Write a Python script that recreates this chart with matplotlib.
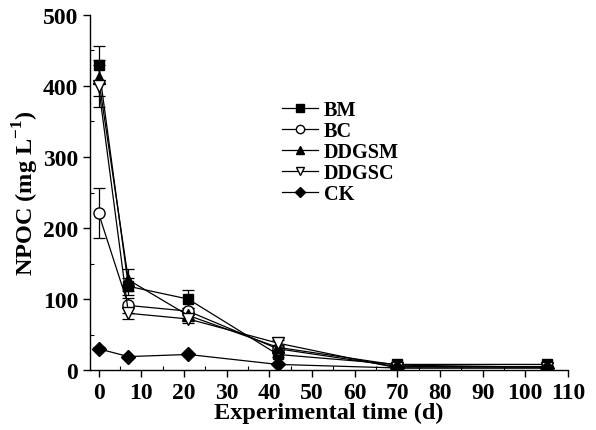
import numpy as np
import matplotlib
matplotlib.use('Agg')
import matplotlib.pyplot as plt

plt.rcParams['font.family'] = 'Liberation Serif'
plt.rcParams['font.weight'] = 'bold'
plt.rcParams['mathtext.fontset'] = 'custom'
plt.rcParams['mathtext.rm'] = 'Liberation Serif:bold'
plt.rcParams['mathtext.bf'] = 'Liberation Serif:bold'

days = [0, 7, 21, 42, 70, 105]
names = ['BM', 'BC', 'DDGSM', 'DDGSC', 'CK']
bm = [430, 118, 100, 22, 8, 8]
bm_err = [26, 12, 13, 4, 2, 2]
bc = [221, 91, 83, 30, 5, 5]
bc_err = [35, 10, 5, 4, 1, 1]
ddgsm = [411, 127, 77, 32, 7, 4]
ddgsm_err = [25, 16, 5, 4, 1, 1]
ddgsc = [400, 80, 72, 38, 3, 3]
ddgsc_err = [30, 8, 5, 5, 1, 1]
ck = [30, 19, 22, 8, 3, 3]
ck_err = [2, 1, 1, 1, 0.5, 0.5]

series = [bm, bc, ddgsm, ddgsc, ck]
errors = [bm_err, bc_err, ddgsm_err, ddgsc_err, ck_err]
markers = ['s', 'o', '^', 'v', 'D']
faces = ['black', 'white', 'black', 'white', 'black']
msizes = [7, 8, 8, 8, 7]

fig = plt.figure(figsize=(5.96, 4.31), dpi=100)
ax = fig.add_axes([0.151, 0.139, 0.802, 0.824])

for y, e, m, fc, ms, n in zip(series, errors, markers, faces, msizes, names):
    ax.errorbar(days, y, yerr=e, color='black', marker=m, markerfacecolor=fc,
                markeredgecolor='black', markersize=ms, linewidth=0.9,
                elinewidth=0.9, capsize=4, capthick=0.9, label=n)

ax.set_xlim(-2, 110)
ax.set_ylim(0, 500)
ax.set_xticks(np.arange(0, 111, 10))
ax.set_yticks(np.arange(0, 501, 100))
ax.set_xticks(np.arange(5, 110, 10), minor=True)
ax.set_yticks(np.arange(50, 500, 100), minor=True)
ax.tick_params(which='major', direction='out', length=5, width=1, labelsize=17)
ax.tick_params(which='minor', direction='in', length=3, width=0.8)
for lab in ax.get_xticklabels() + ax.get_yticklabels():
    lab.set_fontweight('bold')
ax.spines['top'].set_visible(False)
ax.spines['right'].set_visible(False)
ax.spines['left'].set_linewidth(1)
ax.spines['bottom'].set_linewidth(1)

ax.set_xlabel('Experimental time (d)', fontsize=17.5, fontweight='bold', labelpad=-1)
ax.set_ylabel(r'NPOC (mg L$^{-1}$)', fontsize=17.5, fontweight='bold', labelpad=1)

handles, labels = ax.get_legend_handles_labels()
handles = [h[0] for h in handles]
ax.legend(handles, labels, loc='upper left', bbox_to_anchor=(0.402, 0.76),
          borderaxespad=0, borderpad=0, frameon=False,
          prop={'weight': 'bold', 'size': 14.6},
          handlelength=1.75, handletextpad=0.3, labelspacing=0.05,
          markerscale=0.75)

fig.savefig('out.png', dpi=100)
